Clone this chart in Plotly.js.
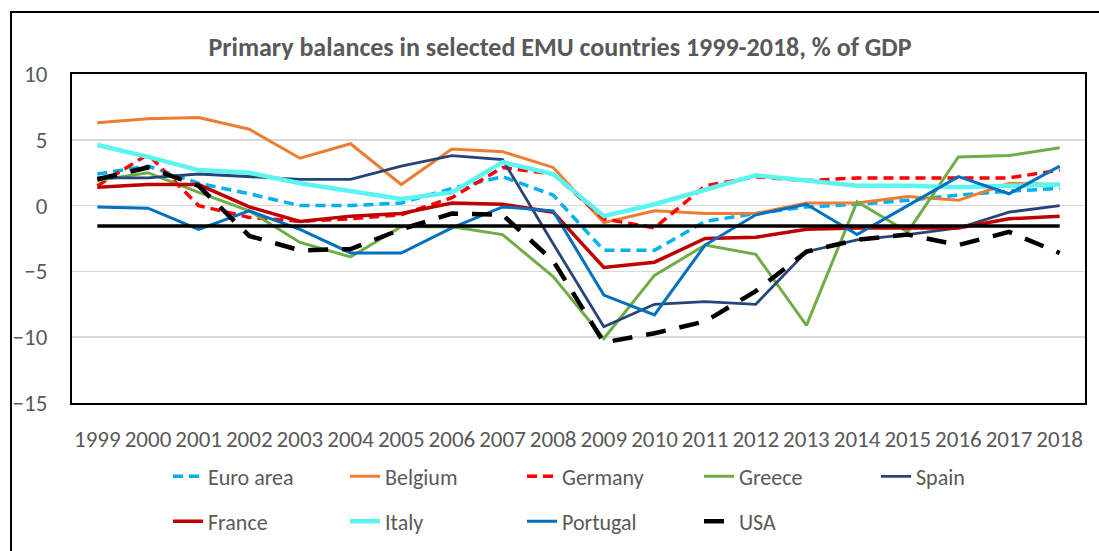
<!DOCTYPE html>
<html>
<head>
<meta charset="utf-8">
<script src="https://cdn.plot.ly/plotly-3.0.1.min.js"></script>
<style>
  html, body { margin: 0; padding: 0; background: #fff; overflow: hidden; }
  #frame { position: absolute; left: 10px; top: 11px; width: 1200px; height: 700px;
           border-left: 2px solid #000; border-top: 2px solid #000; }
  #chart { position: absolute; left: 0; top: 0; width: 1099px; height: 551px; }
</style>
</head>
<body>
<div id="frame"></div>
<div id="chart"></div>
<script>
const years = ["1999","2000","2001","2002","2003","2004","2005","2006","2007","2008",
               "2009","2010","2011","2012","2013","2014","2015","2016","2017","2018"];

const euroArea = [2.4, 3.0, 1.7, 0.9, 0.0, 0.0, 0.2, 1.3, 2.2, 0.8, -3.4, -3.4, -1.2, -0.6, -0.1, 0.1, 0.4, 0.8, 1.1, 1.3];
const belgium  = [6.3, 6.6, 6.7, 5.8, 3.6, 4.7, 1.6, 4.3, 4.1, 2.9, -1.3, -0.4, -0.6, -0.6, 0.2, 0.2, 0.7, 0.4, 1.7, 1.6];
const germany  = [1.5, 3.9, 0.0, -0.9, -1.2, -1.0, -0.7, 0.6, 2.9, 2.4, -1.0, -1.7, 1.5, 2.2, 1.9, 2.1, 2.1, 2.1, 2.1, 2.7];
const greece   = [1.9, 2.5, 1.0, -0.4, -2.8, -3.9, -1.6, -1.6, -2.2, -5.4, -10.1, -5.3, -3.0, -3.7, -9.1, 0.3, -2.0, 3.7, 3.8, 4.4];
const spain    = [2.1, 2.1, 2.4, 2.2, 2.0, 2.0, 3.0, 3.8, 3.5, -2.9, -9.2, -7.5, -7.3, -7.5, -3.5, -2.6, -2.2, -1.7, -0.5, 0.0];
const france   = [1.4, 1.6, 1.6, -0.1, -1.2, -0.8, -0.6, 0.2, 0.1, -0.5, -4.7, -4.3, -2.5, -2.4, -1.8, -1.7, -1.7, -1.7, -1.0, -0.8];
const italy    = [4.6, 3.7, 2.7, 2.5, 1.7, 1.1, 0.5, 1.0, 3.3, 2.4, -0.8, 0.1, 1.2, 2.3, 1.9, 1.5, 1.5, 1.4, 1.5, 1.6];
const portugal = [-0.1, -0.2, -1.8, -0.4, -1.8, -3.6, -3.6, -1.7, -0.1, -0.4, -6.8, -8.3, -3.0, -0.7, 0.1, -2.2, 0.0, 2.2, 0.9, 3.0];
const usa      = [2.0, 2.9, 1.5, -2.3, -3.4, -3.3, -1.8, -0.6, -0.7, -4.2, -10.4, -9.7, -8.8, -6.5, -3.5, -2.6, -2.2, -3.0, -2.0, -3.6];
const reference = [-1.55, -1.55, -1.55, -1.55, -1.55, -1.55, -1.55, -1.55, -1.55, -1.55,
                   -1.55, -1.55, -1.55, -1.55, -1.55, -1.55, -1.55, -1.55, -1.55, -1.55];

const seriesNames = ["Euro area","Belgium","Germany","Greece","Spain","France","Italy","Portugal","USA"];
const seriesData  = [euroArea, belgium, germany, greece, spain, france, italy, portugal, usa];
const seriesColors = ["#00B0F0","#ED7D31","#FF0000","#70AD47","#264478","#C00000","#5BF5F0","#0070C0","#000000"];
const seriesWidths = [3.5, 3, 3.5, 3, 2.8, 3.5, 4.5, 3, 4.5];
const seriesDash   = ["10px,6px","solid","10px,6px","solid","solid","solid","solid","solid","20px,14px"];
const seriesLegend = ["legend","legend","legend","legend","legend","legend2","legend2","legend2","legend2"];

const FONT = "Carlito, 'Liberation Sans', Arial, sans-serif";
const GREY = "#595959";

const traces = seriesNames.map((name, i) => ({
  type: "scatter", mode: "lines", name: name,
  x: years, y: seriesData[i],
  line: { color: seriesColors[i], width: seriesWidths[i], dash: seriesDash[i] },
  legend: seriesLegend[i],
  hoverinfo: "skip"
}));
traces.push({
  type: "scatter", mode: "lines", name: "reference",
  x: years, y: reference, showlegend: false,
  line: { color: "#000000", width: 3.5 }, hoverinfo: "skip"
});

const legendCommon = {
  orientation: "h", xref: "container", yref: "container",
  xanchor: "left", yanchor: "middle",
  entrywidth: 132, entrywidthmode: "pixels",
  font: { family: FONT, size: 22, color: GREY },
  bgcolor: "rgba(0,0,0,0)", borderwidth: 0
};

const layout = {
  width: 1099, height: 551,
  paper_bgcolor: "rgba(0,0,0,0)", plot_bgcolor: "#ffffff",
  margin: { l: 72, r: 14, t: 74, b: 148 },
  font: { family: FONT, color: GREY },
  title: {
    text: "<b>Primary balances in selected EMU countries 1999-2018, % of GDP</b>",
    font: { family: FONT, size: 26, color: GREY },
    xref: "container", yref: "container", x: 560/1099, y: 1 - 47/551,
    xanchor: "center", yanchor: "middle"
  },
  xaxis: {
    type: "category", range: [-0.5, 19.5], showgrid: false, zeroline: false,
    showline: true, mirror: true, linecolor: "#000", linewidth: 2,
    ticks: "outside", ticklen: 14, tickcolor: "rgba(0,0,0,0)",
    tickfont: { family: FONT, size: 23, color: GREY }
  },
  yaxis: {
    range: [-15, 10], tickvals: [-15, -10, -5, 0, 5, 10], zeroline: false,
    showgrid: true, gridcolor: "#D9D9D9", gridwidth: 1.5,
    showline: true, mirror: true, linecolor: "#000", linewidth: 2,
    ticks: "outside", ticklen: 18, tickcolor: "rgba(0,0,0,0)",
    tickfont: { family: FONT, size: 23, color: GREY }
  },
  legend: Object.assign({}, legendCommon, { x: 168/1099, y: 1 - 476.5/551 }),
  legend2: Object.assign({}, legendCommon, { x: 168/1099, y: 1 - 521.5/551 }),
  showlegend: true
};

Plotly.newPlot("chart", traces, layout, { displayModeBar: false, staticPlot: true });
</script>
</body>
</html>
